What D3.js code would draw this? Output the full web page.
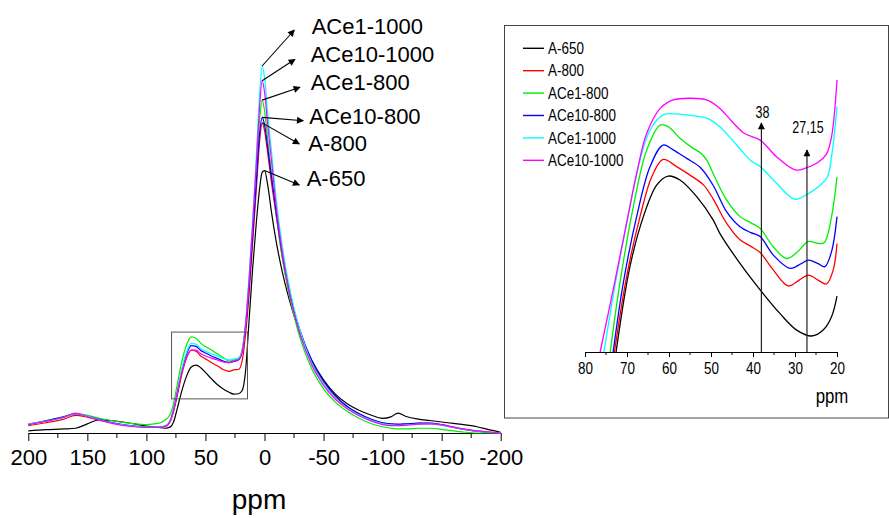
<!DOCTYPE html>
<html>
<head>
<meta charset="utf-8">
<script src="https://cdn.jsdelivr.net/npm/d3@7"></script>
<style>
  body { margin: 0; background: #fff; }
  svg { display: block; font-family: "Liberation Sans", Arial, sans-serif; }
</style>
</head>
<body>
<div id="chart"></div>
<script>
// ---- main spectrum data (ppm, relative intensity) ----
const ppmMain = [200, 185, 170, 160, 150, 140, 130, 120, 110, 100, 90, 84, 80, 77, 74, 70, 66, 62, 58, 54, 50, 45, 40, 35, 30, 26, 22, 19, 16, 13, 10, 7, 4, 2, 0, -3, -6, -10, -15, -20, -25, -30, -40, -50, -60, -70, -80, -90, -100, -107, -113, -120, -130, -140, -150, -160, -170, -180, -190, -200];

const mainA650 = [0.6, 0.9, 1.1, 1.3, 2.5, 3.6, 3.4, 3.0, 2.5, 1.9, 1.5, 1.3, 1.6, 3.0, 6.5, 11.5, 15.5, 18, 18.5, 17.8, 16.5, 14.8, 13.2, 12, 11.1, 10.6, 10.7, 11.5, 17, 31, 45, 57, 67, 71, 71.5, 67, 60, 52, 44, 37.5, 32, 27, 19.8, 14.5, 10.6, 8.0, 6.2, 4.9, 4.0, 4.4, 5.4, 4.5, 3.8, 3.4, 3.0, 2.6, 2.2, 1.7, 0.9, 0.2];
const mainA800 = [2.0, 2.8, 3.8, 4.8, 4.3, 3.5, 2.8, 2.2, 1.8, 1.6, 1.6, 1.8, 3.0, 5.8, 10, 16, 20.5, 22.6, 22.3, 21, 20.2, 19.2, 18.3, 17.3, 16.8, 17.2, 17.3, 19.5, 27, 38, 52, 66, 80, 84.5, 82.5, 75.5, 68, 59, 48, 39.5, 33, 27.5, 19.3, 13.8, 9.9, 7.1, 5.1, 3.7, 2.7, 2.4, 2.3, 2.4, 2.6, 2.6, 2.2, 1.5, 0.9, 0.5, 0.2, 0];
const mainACe1800 = [2.2, 3.4, 4.5, 5.3, 4.8, 4.0, 3.4, 2.9, 2.5, 2.3, 2.6, 3.6, 5, 8, 13, 19.5, 24, 26.2, 25.8, 24.5, 23.6, 22.6, 21.6, 20.6, 19.6, 19.9, 20.3, 22.5, 29.5, 41, 55, 70, 86, 90.7, 88, 79, 70.5, 59.5, 48, 39, 32, 26, 17.5, 12, 8.4, 5.9, 4.0, 2.6, 1.7, 1.3, 1.1, 1.1, 1.3, 1.3, 1.0, 0.6, 0.2, 0, 0, 0];
const mainACe10800 = [2.4, 3.3, 4.4, 5.2, 4.6, 3.7, 2.9, 2.3, 1.9, 1.6, 1.6, 1.9, 3.2, 6.2, 10.5, 17, 21.5, 23.8, 23.6, 22.5, 21.8, 21, 20.3, 19.6, 19.2, 19.5, 19.9, 22, 29, 40, 54, 68, 82, 86, 84, 77, 69.5, 60, 49, 40.5, 33.5, 28, 19.8, 14.2, 10.2, 7.3, 5.3, 3.8, 2.8, 2.5, 2.4, 2.5, 2.7, 2.7, 2.3, 1.6, 1.0, 0.5, 0.2, 0];
const mainACe11000 = [2.4, 3.2, 4.2, 5.3, 4.6, 3.6, 2.8, 2.2, 1.8, 1.6, 1.6, 1.9, 3.2, 6.5, 11, 17.5, 22, 24.4, 24.2, 23, 22.3, 21.6, 21, 20.3, 19.9, 20.2, 20.4, 22.5, 30, 43, 58, 75, 93, 100, 97, 86, 76.5, 63.5, 51, 41.5, 34, 28, 19, 13.5, 9.5, 6.8, 4.9, 3.5, 2.5, 2.2, 2.1, 2.2, 2.4, 2.5, 2.1, 1.5, 0.9, 0.5, 0.2, 0];
const mainACe101000 = [2.3, 3.2, 4.3, 5.4, 4.5, 3.5, 2.7, 2.1, 1.7, 1.5, 1.5, 1.8, 3.3, 6.5, 11, 16.5, 20.5, 22.6, 22.6, 21.6, 21, 20.4, 19.9, 19.4, 19.2, 19.6, 20, 22, 29.5, 42, 57, 73, 89.5, 96, 93, 83, 74, 61.5, 49.5, 40, 32.8, 27, 18.5, 13, 9.2, 6.6, 4.7, 3.3, 2.3, 2.0, 2.0, 2.1, 2.4, 2.5, 2.2, 1.6, 1.0, 0.6, 0.3, 0];

// ---- inset (80-20 ppm region), [ppm, intensity] ----
const insetA650 = [[72.6,0],[69.3,26.1],[66.1,41.4],[62.9,51.1],[60.2,53.8],[57.4,52.6],[53.4,47.5],[49.5,40.4],[47.9,36.3],[43.1,27.1],[38.3,19],[33.6,11.8],[29.6,6.7],[26,4.9],[23.3,6.7],[21.3,10.8],[20,17.1]];
const insetA800 = [[73,0],[70.1,23],[66.9,41.4],[64.1,53.6],[61.4,58.9],[58.2,56.7],[55,54.1],[51.8,51.1],[49.5,46.8],[46.3,39.4],[43.1,34.3],[40.5,32.3],[38.3,30.4],[35.2,25.1],[31.6,20.2],[29,22],[26.8,23.5],[24.5,22],[22.5,20.8],[20.9,25.1],[20,33.2]];
const insetACe1800 = [[74,0],[71.7,21],[68.5,44.4],[65.3,61.8],[62.1,69.4],[60.2,68.9],[57.4,65.4],[54.5,62.5],[52.6,61],[51,58.7],[49.5,54.6],[46.3,46.5],[43.1,41.4],[40.5,39.5],[38.3,37.8],[35.2,32.2],[32,28.6],[29.5,30.5],[26.8,33.8],[24.5,33.2],[23,33.5],[21.3,41.4],[20,53.6]];
const insetACe10800 = [[73.3,0],[70.9,21],[67.7,41.4],[64.5,56.7],[61.4,63.3],[59,61.8],[55.8,59.2],[52.6,56.5],[49.5,51],[46.3,42.9],[43.1,38.3],[40.5,36.5],[38.3,35.3],[35.2,29.7],[31.2,25.6],[28.5,27],[26.8,28.1],[24.5,27],[22.9,26.1],[21.3,30.7],[20,41.4]];
const insetACe11000 = [[75.5,0],[72.5,23],[69.3,44.4],[66.9,58.7],[64.5,67.9],[61.4,72.5],[58.2,72.8],[54.2,72.2],[51,71.5],[47.9,68.9],[43.9,63.3],[40.5,58.5],[38.3,56.7],[34.4,51.6],[30,46.7],[27,48.3],[24,51],[22.3,53.5],[21.3,59.7],[20,75]];
const insetACe101000 = [[76.4,0],[73.3,19],[70.1,39.4],[67.7,54.6],[65.3,66.9],[62.1,74.5],[59,77.1],[55,77.6],[51,77.1],[47.9,74.5],[45,70.5],[42,66.8],[38.3,64.8],[34.4,59.7],[30,55.7],[27.5,56.2],[24.5,58],[22.5,60.5],[21.3,65.8],[20,83.2]];

const seriesNames = ["A-650", "A-800", "ACe1-800", "ACe10-800", "ACe1-1000", "ACe10-1000"];
const seriesColors = ["#000000", "#ff0000", "#00ee00", "#0000ff", "#00ffff", "#ff00ff"];
const mainValues = [mainA650, mainA800, mainACe1800, mainACe10800, mainACe11000, mainACe101000];
const insetValues = [insetA650, insetA800, insetACe1800, insetACe10800, insetACe11000, insetACe101000];

const mainTicks = [200, 150, 100, 50, 0, -50, -100, -150, -200];
const mainMinor = [175, 125, 75, 25, -25, -75, -125, -175];
const insetTicks = [80, 70, 60, 50, 40, 30, 20];
const insetMinor = [75, 65, 55, 45, 35, 25];
const markedPpm = [38, 27.15];
const markedLabels = ["38", "27,15"];
const zoomBox = { ppm: [78.7, 14.4], val: [9.3, 27.5] };

// ---- layout ----
const width = 889, height = 518;
const svg = d3.select("#chart").append("svg")
    .attr("width", width).attr("height", height);

svg.append("defs").append("marker")
    .attr("id", "head")
    .attr("viewBox", "0 0 10 10")
    .attr("refX", 9).attr("refY", 5)
    .attr("markerWidth", 10).attr("markerHeight", 7)
    .attr("markerUnits", "userSpaceOnUse")
    .attr("orient", "auto")
    .append("path").attr("d", "M0,0 L10,5 L0,10 Z").attr("fill", "#000");

// squeeze text horizontally (the inset uses a narrow font)
const condense = (sel, k) => sel.each(function () {
    const w = this.getComputedTextLength();
    d3.select(this).attr("textLength", w * k).attr("lengthAdjust", "spacingAndGlyphs");
});

// plain hyphen for negatives, like the original
const plain = d => String(d);

// ---- main plot ----
const xMain = d3.scaleLinear().domain([200, -200]).range([28.3, 500.7]);
const yMain = d3.scaleLinear().domain([0, 100]).range([433, 66]);

const mainG = svg.append("g");

const xAxisMain = d3.axisBottom(xMain).tickValues(mainTicks).tickFormat(plain)
    .tickSize(8).tickSizeOuter(0).tickPadding(8);
const axG = mainG.append("g").attr("transform", `translate(0,${yMain(0)})`).call(xAxisMain);
axG.selectAll("text").style("font-size", "22px").attr("fill", "#000");
axG.select(".domain").attr("stroke", "#000");
axG.selectAll(".tick line").attr("stroke", "#000");
axG.selectAll(".minor").data(mainMinor).join("line")
    .attr("class", "minor")
    .attr("x1", d => xMain(d)).attr("x2", d => xMain(d))
    .attr("y1", 0).attr("y2", 5).attr("stroke", "#000");

mainG.append("text")
    .attr("x", 259).attr("y", 509)
    .attr("text-anchor", "middle")
    .style("font-size", "28px")
    .text("ppm");

const lineMain = d3.line()
    .x(d => xMain(d[0]))
    .y(d => yMain(d[1]))
    .curve(d3.curveMonotoneX);

mainValues.forEach((vals, i) => {
    mainG.append("path")
        .datum(ppmMain.map((p, j) => [p, vals[j]]))
        .attr("d", lineMain)
        .attr("fill", "none")
        .attr("stroke", seriesColors[i])
        .attr("stroke-width", 1.2);
});

// zoom box
mainG.append("rect")
    .attr("x", xMain(zoomBox.ppm[0]))
    .attr("y", yMain(zoomBox.val[1]))
    .attr("width", xMain(zoomBox.ppm[1]) - xMain(zoomBox.ppm[0]))
    .attr("height", yMain(zoomBox.val[0]) - yMain(zoomBox.val[1]))
    .attr("fill", "none").attr("stroke", "#555").attr("stroke-width", 1);

// peak labels with arrows (label order from top to bottom)
const labelOrder = [4, 5, 2, 3, 1, 0];
const labelPos = [[311.7, 34.3], [310.7, 62.3], [310.7, 90], [309.3, 124], [308.3, 150.7], [306.7, 185.7]];
const arrowEnd = [[294.3, 30], [295, 59.3], [300, 87.3], [303.3, 120.7], [299.3, 144], [299.3, 185]];
labelOrder.forEach((si, k) => {
    const vals = mainValues[si];
    const j = d3.maxIndex(vals);
    mainG.append("line")
        .attr("x1", xMain(ppmMain[j])).attr("y1", yMain(vals[j]))
        .attr("x2", arrowEnd[k][0]).attr("y2", arrowEnd[k][1])
        .attr("stroke", "#000").attr("stroke-width", 1.1)
        .attr("marker-end", "url(#head)");
    mainG.append("text")
        .attr("x", labelPos[k][0]).attr("y", labelPos[k][1])
        .style("font-size", "22px")
        .text(seriesNames[si]);
});

// ---- inset ----
svg.append("rect")
    .attr("x", 504.5).attr("y", 25.5).attr("width", 384).attr("height", 392.5)
    .attr("fill", "none").attr("stroke", "#444").attr("stroke-width", 1);

const xIn = d3.scaleLinear().domain([80, 20]).range([585, 837]);
const yIn = d3.scaleLinear().domain([0, 100]).range([352, 25]);

const inG = svg.append("g");
const xAxisIn = d3.axisBottom(xIn).tickValues(insetTicks).tickFormat(plain)
    .tickSize(5).tickSizeOuter(0).tickPadding(6);
const inAx = inG.append("g").attr("transform", `translate(0,${yIn(0)})`).call(xAxisIn);
inAx.selectAll("text").style("font-size", "16px").attr("fill", "#000").call(condense, 0.84);
inAx.select(".domain").attr("stroke", "#000");
inAx.selectAll(".tick line").attr("stroke", "#000");
inAx.selectAll(".minor").data(insetMinor).join("line")
    .attr("class", "minor")
    .attr("x1", d => xIn(d)).attr("x2", d => xIn(d))
    .attr("y1", 0).attr("y2", 3).attr("stroke", "#000");

inG.append("text")
    .attr("x", 832).attr("y", 403)
    .attr("text-anchor", "middle")
    .style("font-size", "21px")
    .text("ppm")
    .call(condense, 0.8);

const lineIn = d3.line()
    .x(d => xIn(d[0]))
    .y(d => yIn(d[1]))
    .curve(d3.curveCatmullRom.alpha(0.5));

insetValues.forEach((vals, i) => {
    inG.append("path")
        .datum(vals)
        .attr("d", lineIn)
        .attr("fill", "none")
        .attr("stroke", seriesColors[i])
        .attr("stroke-width", 1.3);
});

// marker arrows at 38 and 27,15 ppm
const arrowTop = [123, 150];
const arrowLabelY = [118.3, 133.3];
markedPpm.forEach((p, k) => {
    inG.append("line")
        .attr("x1", xIn(p)).attr("y1", yIn(0))
        .attr("x2", xIn(p)).attr("y2", arrowTop[k])
        .attr("stroke", "#222").attr("stroke-width", 1.2)
        .attr("marker-end", "url(#head)");
    inG.append("text")
        .attr("x", xIn(p) + 1).attr("y", arrowLabelY[k])
        .attr("text-anchor", "middle")
        .style("font-size", "16px")
        .text(markedLabels[k])
        .call(condense, 0.78);
});

// legend
const legend = inG.append("g").attr("transform", "translate(523,48.3)");
seriesNames.forEach((name, i) => {
    const row = legend.append("g").attr("transform", `translate(0,${i * 22.4})`);
    row.append("line").attr("x1", 0).attr("x2", 21).attr("y1", 0).attr("y2", 0)
        .attr("stroke", seriesColors[i]).attr("stroke-width", 1.4);
    row.append("text").attr("x", 25).attr("y", 5.7)
        .style("font-size", "16px")
        .text(name)
        .call(condense, 0.84);
});
</script>
</body>
</html>
